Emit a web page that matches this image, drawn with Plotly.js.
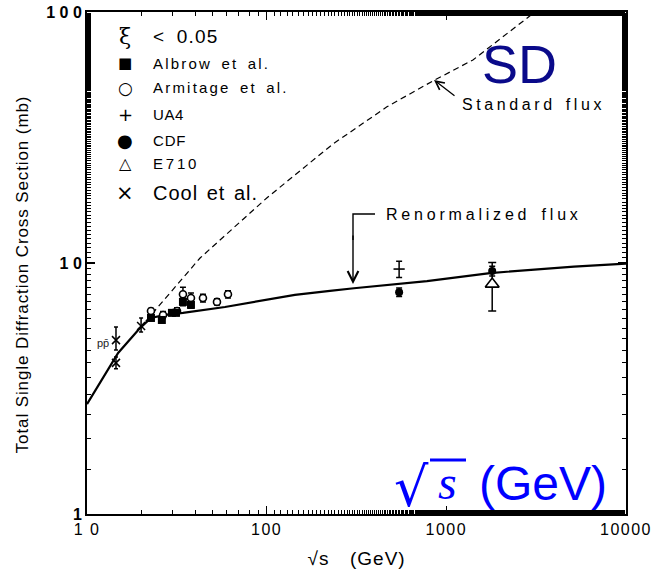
<!DOCTYPE html>
<html>
<head>
<meta charset="utf-8">
<script src="https://cdn.plot.ly/plotly-3.0.1.min.js"></script>
<style>html,body{margin:0;padding:0;background:#fff}#plot{width:654px;height:574px}</style>
</head>
<body>
<div id="plot"></div>
<script>
// ---- Data ----
const renormX = [10, 11.8, 14.9, 19.5, 22.7, 27.2, 34.2, 58.6, 91.9, 143.6, 225, 306, 780, 1750, 5130, 10000];
const renormY = [2.74, 3.33, 4.38, 5.46, 6.04, 6.21, 6.33, 6.68, 7.06, 7.46, 7.74, 7.93, 8.47, 9.12, 9.68, 9.95];

const standardX = [19.5, 42.6, 100.5, 234, 467, 841, 1406, 3112];
const standardY = [5.46, 10.47, 18.2, 29.8, 41.9, 53.1, 64.4, 100];

const albrowX = [22.7, 26.1, 29.7, 31.3, 34.2, 37.9];
const albrowY = [6.04, 5.93, 6.33, 6.33, 7.00, 6.81];
const albrowErr = [0.15, 0.15, 0.15, 0.15, 0.25, 0.2];

const armitageX = [22.7, 26.5, 31.7, 34.2, 37.9, 44.2, 52.9, 60.9];
const armitageY = [6.44, 6.21, 6.44, 7.51, 7.25, 7.25, 7.00, 7.51];
const armitageErr = [0.15, 0.2, 0.2, 0.5, 0.35, 0.25, 0.2, 0.25];

const ua4X = [546];
const ua4Y = [9.46];
const ua4Err = [0.7];

const cdfX = [546, 1800];
const cdfY = [7.65, 9.29];
const cdfErr = [0.3, 0.42];

const e710X = [1800];
const e710Y = [8.24];
const e710Err = [1.8];

const coolX = [14.5, 14.5, 20];
const coolY = [4.93, 4.00, 5.61];
const coolErrPlus = [0.63, 0.22, 0.43];
const coolErrMinus = [0.43, 0.21, 0.30];

const xTickVals = [10, 100, 1000, 10000];
const xTickText = ["1 0", "100", "1000", "10000"];
const yTickVals = [1, 10, 100];
const yTickText = ["<b>1</b>", "<b>1 0</b>", "<b>1 0 0</b>"];

// ---- Layout helpers (pixel -> paper) ----
const L = 87, R = 626, T = 12, B = 514;
const px = x => (x - L) / (R - L);
const py = y => (B - y) / (B - T);

const FONT = "Liberation Sans, Arial, sans-serif";
const eb = (arr, extra) => Object.assign({type: 'data', array: arr, visible: true, color: '#000', thickness: 1.5, width: 3}, extra || {});

const traces = [
  {x: renormX, y: renormY, mode: 'lines', line: {color: '#000', width: 2.2}, hoverinfo: 'skip'},
  {x: standardX, y: standardY, mode: 'lines', line: {color: '#000', width: 1.2, dash: '6px,4px'}, hoverinfo: 'skip'},
  {x: armitageX, y: armitageY, mode: 'markers', marker: {symbol: 'circle', size: 7, color: '#fff', line: {color: '#000', width: 1.6}}, error_y: eb(armitageErr)},
  {x: albrowX, y: albrowY, mode: 'markers', marker: {symbol: 'square', size: 8, color: '#000'}, error_y: eb(albrowErr)},
  {x: ua4X, y: ua4Y, mode: 'markers', marker: {symbol: 'line-ew', size: 8, line: {color: '#000', width: 1.6}}, error_y: eb(ua4Err)},
  {x: cdfX, y: cdfY, mode: 'markers', marker: {symbol: 'circle', size: 8, color: '#000'}, error_y: eb(cdfErr)},
  {x: e710X, y: e710Y, mode: 'markers', marker: {symbol: 'triangle-up', size: 12, color: '#fff', line: {color: '#000', width: 1.6}}, error_y: eb(e710Err, {width: 4})},
  {x: coolX, y: coolY, mode: 'markers', marker: {symbol: 'x-thin', size: 8, line: {color: '#000', width: 1.5}}, error_y: {type: 'data', symmetric: false, array: coolErrPlus, arrayminus: coolErrMinus, color: '#000', thickness: 1.5, width: 2}}
];

const ann = [];
const spacing = [];
function txt(x, y, text, opts, ls, ws) {
  ann.push(Object.assign({xref: 'paper', yref: 'paper', x: px(x), y: py(y), text: text, showarrow: false,
    xanchor: 'left', align: 'left', yanchor: 'middle', font: {family: FONT, size: 15, color: '#000'}}, opts || {}));
  spacing.push({ls: ls || 0, ws: ws || 0});
}
function arrow(a) { ann.push(a); spacing.push({ls: 0, ws: 0}); }

// legend block
txt(125, 37, 'ξ', {xanchor: 'center', align: 'center', font: {family: 'DejaVu Serif, serif', size: 22, color: '#000'}});
txt(151, 37, '< 0.05', {font: {family: FONT, size: 19, color: '#000'}}, 1.2, 5);
txt(125, 63, '■', {xanchor: 'center', align: 'center', font: {family: 'DejaVu Sans', size: 15, color: '#000'}});
txt(151, 63, 'Albrow et al.', {}, 2.2, 3);
txt(125, 88, '○', {xanchor: 'center', align: 'center', font: {family: 'DejaVu Sans', size: 17, color: '#000'}});
txt(151, 88, 'Armitage et al.', {}, 2.2, 3);
txt(125, 114, '+', {xanchor: 'center', align: 'center', font: {family: 'DejaVu Sans', size: 18, color: '#000'}});
txt(151, 114, 'UA4', {}, 0.6);
txt(125, 140, '●', {xanchor: 'center', align: 'center', font: {family: 'DejaVu Sans', size: 18, color: '#000'}});
txt(151, 140, 'CDF', {}, 0.8);
txt(125, 164, '△', {xanchor: 'center', align: 'center', font: {family: 'DejaVu Sans', size: 16, color: '#000'}});
txt(151, 164, 'E710', {}, 2.8);
txt(125, 193, '×', {xanchor: 'center', align: 'center', font: {family: 'DejaVu Sans', size: 21, color: '#000'}});
txt(151, 193, 'Cool et al.', {font: {family: FONT, size: 20, color: '#000'}}, 1.0, 2);
// SD
txt(519, 64, 'SD', {xanchor: 'center', align: 'center', font: {family: FONT, size: 54, color: '#0a0a8a'}});
// Standard flux
txt(460, 105, 'Standard flux', {font: {family: FONT, size: 16, color: '#000'}}, 3.6, 2);
arrow({xref: 'paper', yref: 'paper', axref: 'pixel', ayref: 'pixel', x: px(434), y: py(80), ax: 22, ay: 17,
  showarrow: true, arrowhead: 5, arrowsize: 1.3, arrowwidth: 1.3, arrowcolor: '#000', text: ''});
// Renormalized flux
txt(384, 214, 'Renormalized flux', {font: {family: FONT, size: 16, color: '#000'}}, 3.8, 3);
arrow({xref: 'paper', yref: 'paper', x: px(353), y: py(284), ax: 0, ay: -50,
  showarrow: true, arrowhead: 5, arrowsize: 1.5, arrowwidth: 1.4, arrowcolor: '#000', text: ''});
// pp-bar label
txt(103, 343, 'pp\u0304', {xanchor: 'center', align: 'center', font: {family: FONT, size: 11, color: '#222'}});
// big sqrt(s) (GeV)
txt(411, 487, '√', {xanchor: 'center', align: 'center', font: {family: 'DejaVu Sans, sans-serif', size: 54, color: '#0000ff'}});
txt(447, 482, '<i>s</i>', {xanchor: 'center', align: 'center', font: {family: 'Liberation Serif, DejaVu Serif, serif', size: 48, color: '#0000ff'}});
txt(477, 483, '(GeV)', {font: {family: FONT, size: 48, color: '#0000ff'}});
// axis titles
txt(356, 558, '√s  (GeV)', {xanchor: 'center', align: 'center', font: {family: FONT, size: 19, color: '#000'}}, 1, 4);
txt(22, 275, 'Total Single Diffraction Cross Section (mb)', {xanchor: 'center', align: 'center', textangle: -90,
  font: {family: FONT, size: 17, color: '#000'}}, 0.9);

const shapes = [
  {type: 'path', xref: 'paper', yref: 'paper',
   path: `M ${px(375)} ${py(214)} L ${px(353)} ${py(214)} L ${px(353)} ${py(240)}`,
   line: {color: '#000', width: 1.4}},
  {type: 'line', xref: 'paper', yref: 'paper', x0: px(430), x1: px(466), y0: py(460), y1: py(460),
   line: {color: '#0000ff', width: 3}}
];

const axisCommon = {
  type: 'log', showgrid: false, zeroline: false, showline: true, linecolor: '#000', linewidth: 2,
  mirror: 'allticks', ticks: 'inside', ticklen: 8, tickwidth: 1.2, tickcolor: '#000',
  tickmode: 'array',
  minor: {ticks: 'inside', ticklen: 4, tickwidth: 1, tickcolor: '#000', showgrid: false}
};

const layout = {
  width: 654, height: 574,
  margin: {l: L, r: 654 - R, t: T, b: 574 - B},
  paper_bgcolor: '#fff', plot_bgcolor: '#fff',
  showlegend: false,
  xaxis: Object.assign({}, axisCommon, {range: [1, 4], tickvals: xTickVals, ticktext: xTickText,
    tickfont: {family: FONT, size: 16, color: '#000'}}),
  yaxis: Object.assign({}, axisCommon, {range: [0, 2], tickvals: yTickVals, ticktext: yTickText,
    tickfont: {family: FONT, size: 16, color: '#000'}}),
  annotations: ann,
  shapes: shapes
};

Plotly.newPlot('plot', traces, layout, {displayModeBar: false, staticPlot: true}).then(gd => {
  gd.querySelectorAll('g.annotation').forEach(g => {
    const i = +g.getAttribute('data-index');
    const s = spacing[i];
    const t = g.querySelector('text.annotation-text');
    if (s && t) {
      if (s.ls) t.style.letterSpacing = s.ls + 'px';
      if (s.ws) t.style.wordSpacing = s.ws + 'px';
    }
  });
  gd.querySelectorAll('.xtick text').forEach(t => { t.style.letterSpacing = '1.5px'; });
});
</script>
</body>
</html>
